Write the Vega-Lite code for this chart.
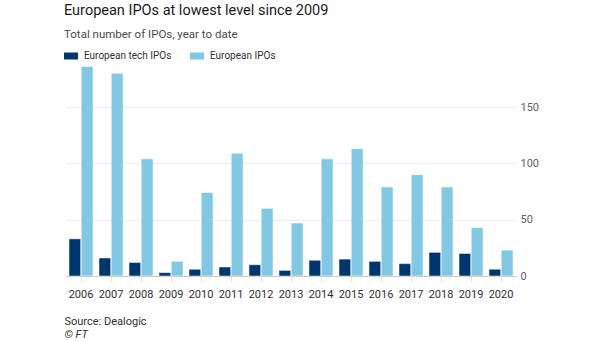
{
  "$schema": "https://vega.github.io/schema/vega-lite/v6.json",
  "width": 450,
  "height": 214,
  "autosize": {"type": "none"},
  "padding": {"left": 66, "top": 62, "right": 89, "bottom": 65},
  "background": "white",
  "config": {
    "font": "Roboto",
    "view": {"stroke": null}
  },
  "title": {
    "text": "European IPOs at lowest level since 2009",
    "subtitle": "Total number of IPOs, year to date",
    "anchor": "start",
    "frame": "group",
    "dx": -2,
    "offset": 8,
    "fontSize": 14.5,
    "fontWeight": "normal",
    "color": "#1a1a1a",
    "subtitleFontSize": 11.5,
    "subtitleColor": "#4d4845",
    "subtitlePadding": 10
  },
  "data": {
    "values": [
      {"year": "2006", "series": "European tech IPOs", "value": 33},
      {"year": "2007", "series": "European tech IPOs", "value": 16},
      {"year": "2008", "series": "European tech IPOs", "value": 12},
      {"year": "2009", "series": "European tech IPOs", "value": 3},
      {"year": "2010", "series": "European tech IPOs", "value": 6},
      {"year": "2011", "series": "European tech IPOs", "value": 8},
      {"year": "2012", "series": "European tech IPOs", "value": 10},
      {"year": "2013", "series": "European tech IPOs", "value": 5},
      {"year": "2014", "series": "European tech IPOs", "value": 14},
      {"year": "2015", "series": "European tech IPOs", "value": 15},
      {"year": "2016", "series": "European tech IPOs", "value": 13},
      {"year": "2017", "series": "European tech IPOs", "value": 11},
      {"year": "2018", "series": "European tech IPOs", "value": 21},
      {"year": "2019", "series": "European tech IPOs", "value": 20},
      {"year": "2020", "series": "European tech IPOs", "value": 6},
      {"year": "2006", "series": "European IPOs", "value": 186},
      {"year": "2007", "series": "European IPOs", "value": 180},
      {"year": "2008", "series": "European IPOs", "value": 104},
      {"year": "2009", "series": "European IPOs", "value": 13},
      {"year": "2010", "series": "European IPOs", "value": 74},
      {"year": "2011", "series": "European IPOs", "value": 109},
      {"year": "2012", "series": "European IPOs", "value": 60},
      {"year": "2013", "series": "European IPOs", "value": 47},
      {"year": "2014", "series": "European IPOs", "value": 104},
      {"year": "2015", "series": "European IPOs", "value": 113},
      {"year": "2016", "series": "European IPOs", "value": 79},
      {"year": "2017", "series": "European IPOs", "value": 90},
      {"year": "2018", "series": "European IPOs", "value": 79},
      {"year": "2019", "series": "European IPOs", "value": 43},
      {"year": "2020", "series": "European IPOs", "value": 23}
    ]
  },
  "mark": {"type": "bar", "stroke": "white", "strokeWidth": 0.5},
  "encoding": {
    "x": {
      "field": "year",
      "type": "nominal",
      "scale": {"paddingInner": 0.2, "paddingOuter": 0.1},
      "axis": {
        "title": "Source: Dealogic",
        "titleAnchor": "start",
        "titleAlign": "left",
        "titleBaseline": "alphabetic",
        "titleX": -2,
        "titleY": 48,
        "titleFontSize": 11,
        "titleFontWeight": "normal",
        "titleColor": "#33302e",
        "labelAngle": 0,
        "labelFontSize": 11,
        "labelColor": "#33302e",
        "labelPadding": 6,
        "domainColor": "#c8c4c0",
        "tickColor": "#e6e2df",
        "tickSize": 6
      }
    },
    "xOffset": {
      "field": "series",
      "type": "nominal",
      "sort": ["European tech IPOs", "European IPOs"],
      "scale": {"paddingInner": 0.04}
    },
    "y": {
      "field": "value",
      "type": "quantitative",
      "scale": {"domain": [0, 190], "nice": false},
      "axis": {
        "orient": "right",
        "title": "© FT",
        "titleAngle": 0,
        "titleAnchor": null,
        "titleAlign": "left",
        "titleBaseline": "alphabetic",
        "titleX": -452,
        "titleY": 275,
        "titleFontSize": 11,
        "titleFontStyle": "italic",
        "titleFontWeight": "normal",
        "titleColor": "#33302e",
        "values": [0, 50, 100, 150],
        "domain": false,
        "ticks": false,
        "gridColor": "#f0ece9",
        "labelFontSize": 11,
        "labelColor": "#66605c",
        "labelPadding": 4
      }
    },
    "color": {
      "field": "series",
      "type": "nominal",
      "sort": ["European tech IPOs", "European IPOs"],
      "scale": {"range": ["#00366f", "#80c8e3"]},
      "legend": {
        "title": null,
        "orient": "none",
        "legendX": -2,
        "legendY": -13,
        "direction": "horizontal",
        "symbolType": "M-1,-0.5H1V0.5H-1Z",
        "symbolSize": 196,
        "symbolStrokeWidth": 0,
        "labelFontSize": 10,
        "labelColor": "#33302e",
        "labelOffset": 6,
        "columnPadding": 18
      }
    }
  }
}
